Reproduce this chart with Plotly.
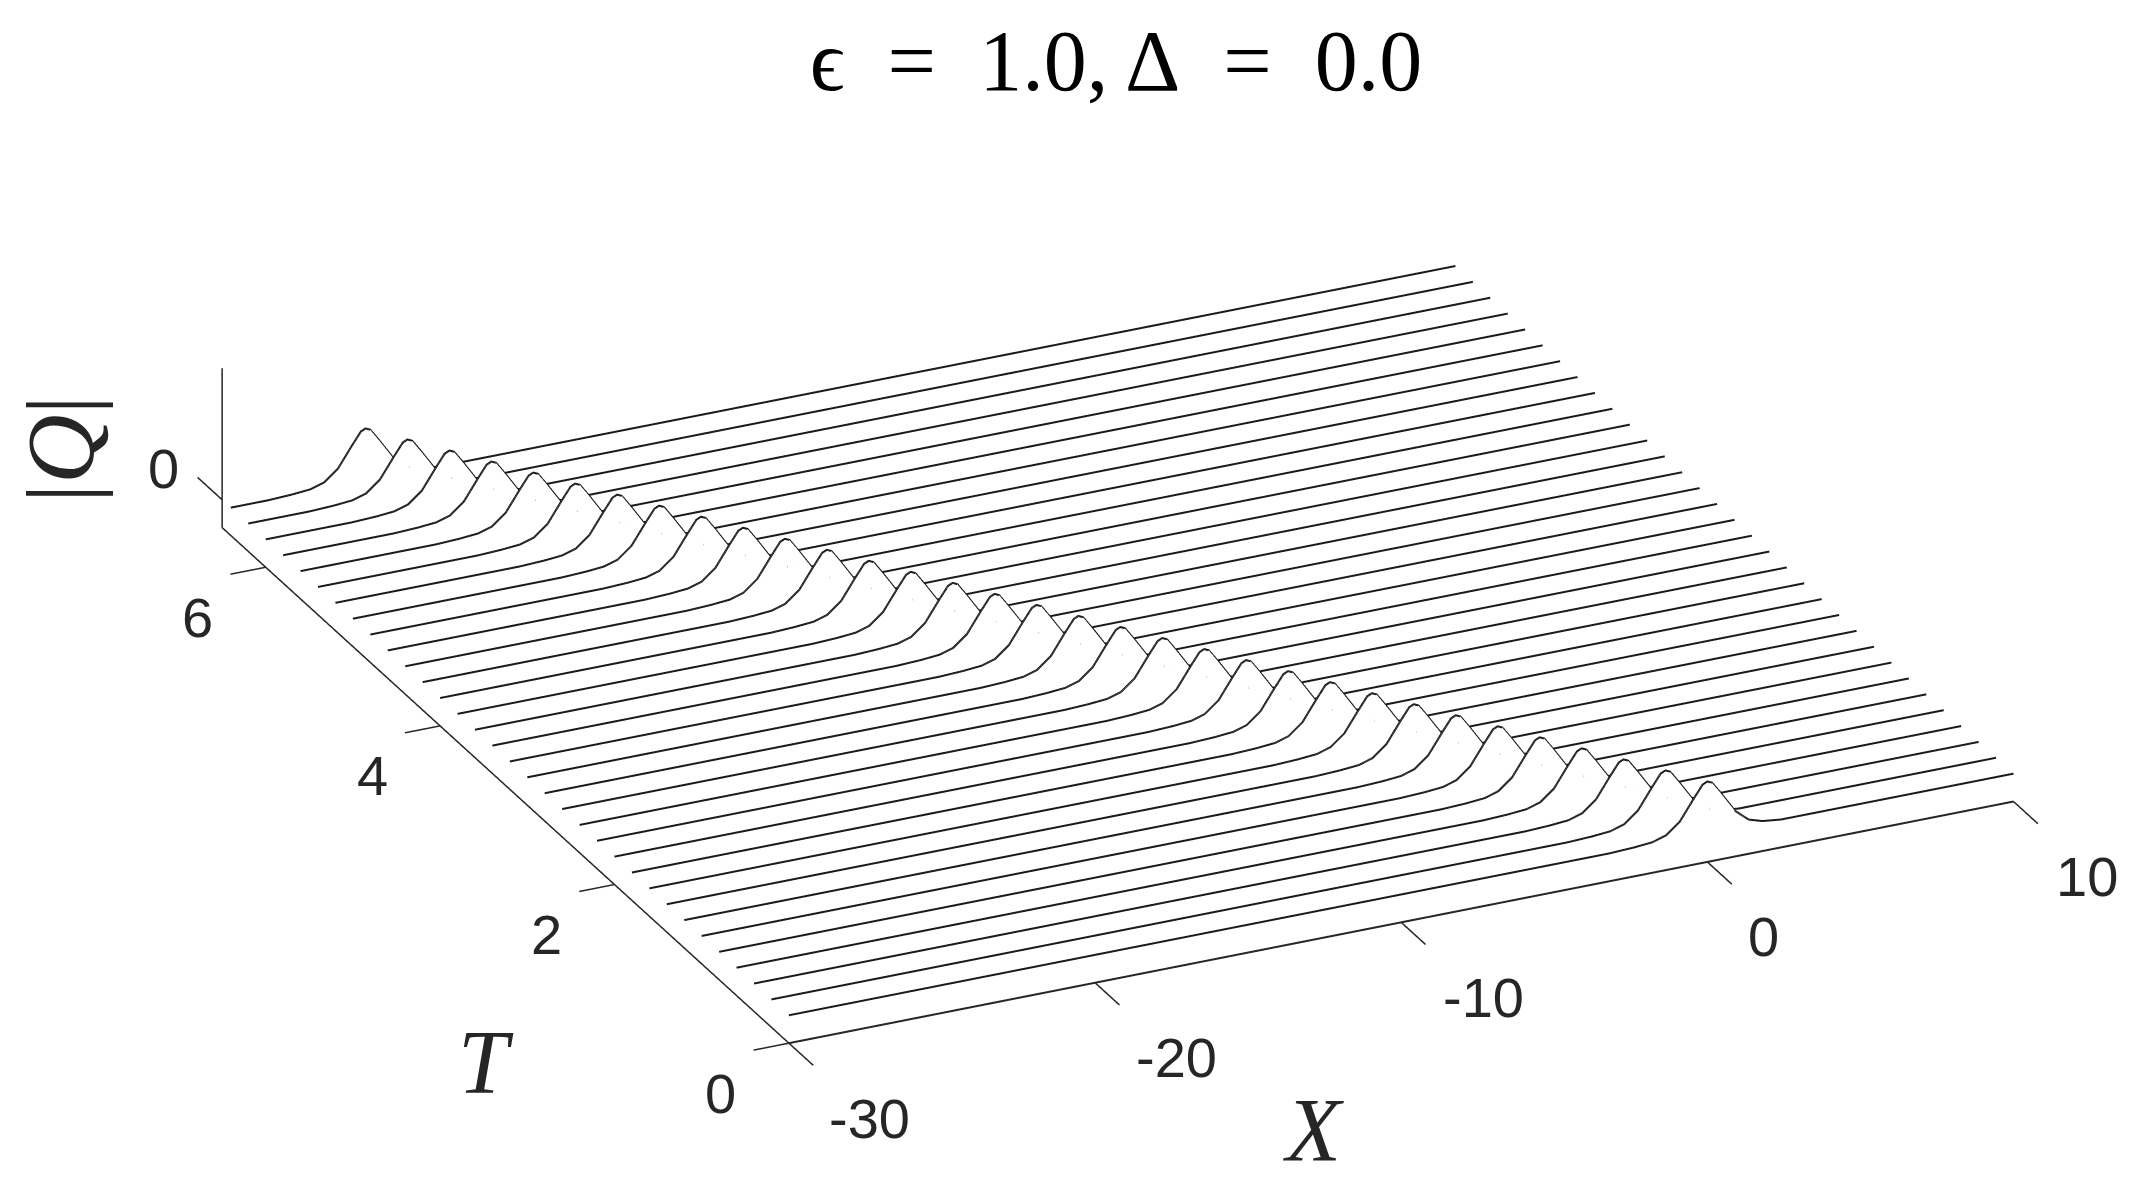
import plotly.graph_objects as go

# readings from the picture
t_values = [0.0, 0.2, 0.4, 0.6, 0.8, 1.0, 1.2, 1.4, 1.6, 1.8, 2.0,
            2.2, 2.4, 2.6, 2.8, 3.0, 3.2, 3.4, 3.6, 3.8, 4.0, 4.2,
            4.4, 4.6, 4.8, 5.0, 5.2, 5.4, 5.6, 5.8, 6.0, 6.2, 6.4]
peak_x = [0.0, -0.8, -1.6, -2.4, -3.2, -4.0, -4.8, -5.6, -6.4, -7.2, -8.0,
          -8.8, -9.6, -10.4, -11.2, -12.0, -12.8, -13.6, -14.4, -15.2, -16.0, -16.8,
          -17.6, -18.4, -19.2, -20.0, -20.8, -21.6, -22.4, -23.2, -24.0, -24.8, -25.6]
pulse_dx = [-3.2, -2.4, -1.8, -1.35, -0.9, -0.45, -0.15, 0.0, 0.15, 0.45, 0.9, 1.35, 1.8, 2.4]
pulse_q = [0.0, 0.02, 0.05, 0.13, 0.34, 0.72, 0.96, 1.0, 0.96, 0.72, 0.34, 0.12, 0.04, 0.0]

x_ticks = [-30, -20, -10, 0, 10]
x_labels = ["-30", "-20", "-10", "0", "10"]
x_label_shift = [81, 81, 82, 56, 74]
t_ticks = [0, 2, 4, 6]
q_ticks = [0]

x_start, x_end = -30, 10
t_end = 6.5
q_floor, q_top = -0.53, 2.5
x_tick_len = 0.28
t_tick_len = 1.15

INK = "#262626"
TICK_FONT = dict(family="Liberation Sans", size=56, color=INK)
MATH_FONT = dict(family="Liberation Serif", size=90, color=INK)
EYE_SCALE = 5
ZOOM = 2.367

fig = go.Figure()


def axis_line(xs, ys, zs, width=3):
    fig.add_trace(go.Scatter3d(x=xs, y=ys, z=zs, mode="lines", hoverinfo="skip",
                               line=dict(color=INK, width=width), showlegend=False))


# one white ribbon under each curve so the nearer peaks hide the lines behind
for t, peak in zip(t_values, peak_x):
    xs = [x_start] + [peak + d for d in pulse_dx] + [x_end]
    zs = [0] + pulse_q + [0]
    n = len(xs)
    fig.add_trace(go.Mesh3d(
        x=xs + xs, y=[t] * (2 * n), z=zs + [0] * n,
        i=[k for k in range(n - 1)] + [k for k in range(n - 1)],
        j=[k + 1 for k in range(n - 1)] + [k + 1 for k in range(n - 1)],
        k=[k + n for k in range(n - 1)] + [k + n + 1 for k in range(n - 1)],
        color="white", opacity=1, hoverinfo="skip", flatshading=True,
        lighting=dict(ambient=1, diffuse=0, specular=0, roughness=1, fresnel=0),
    ))
    fig.add_trace(go.Scatter3d(x=xs, y=[t] * n, z=zs, mode="lines", hoverinfo="skip",
                               line=dict(color="#1a1a1a", width=4), showlegend=False))

# axes and ticks
axis_line([x_start, x_end], [0, 0], [q_floor, q_floor], width=4)
axis_line([x_start, x_start], [0, t_end], [q_floor, q_floor])
axis_line([x_start, x_start], [t_end, t_end], [q_floor, q_top])
for v in x_ticks:
    axis_line([v, v], [0, -x_tick_len], [q_floor, q_floor])
for v in t_ticks:
    axis_line([x_start, x_start - t_tick_len], [v, v], [q_floor, q_floor])
for v in q_ticks:
    axis_line([x_start, x_start], [t_end, t_end + x_tick_len], [v, v])

tick_notes = []
for v, label, shift in zip(x_ticks, x_labels, x_label_shift):
    tick_notes.append(dict(x=v, y=0, z=q_floor, text=label, showarrow=False, font=TICK_FONT,
                           xshift=shift, yshift=-75))
for v in t_ticks:
    tick_notes.append(dict(x=x_start, y=v, z=q_floor, text=str(v), showarrow=False, font=TICK_FONT,
                           xshift=-68, yshift=-50))
for v in q_ticks:
    tick_notes.append(dict(x=x_start, y=t_end, z=v, text=str(v), showarrow=False, font=TICK_FONT,
                           xshift=-59, yshift=31))

hidden_axis = dict(visible=False, showspikes=False, showgrid=False, zeroline=False)
fig.update_layout(
    width=2134, height=1180, margin=dict(l=0, r=0, t=0, b=0),
    paper_bgcolor="white", showlegend=False,
    title=dict(text="ϵ = 1.0, Δ = 0.0".replace(" = ", "\u2002=\u2002"),
               x=1116 / 2134, xanchor="center", y=1 - 60 / 1180, yanchor="middle",
               font=dict(family="Liberation Serif", size=86, color="black")),
    scene=dict(
        domain=dict(x=[0, 1], y=[0, 1]),
        xaxis=dict(range=[x_start - t_tick_len - 0.1, x_end + 0.1], **hidden_axis),
        yaxis=dict(range=[-x_tick_len - 0.02, t_end + x_tick_len + 0.02], **hidden_axis),
        zaxis=dict(range=[q_floor - 0.07, q_top + 0.05], **hidden_axis),
        aspectmode="manual",
        aspectratio=dict(x=ZOOM, y=1.05 * ZOOM, z=0.131 * ZOOM),
        bgcolor="white",
        camera=dict(projection=dict(type="orthographic"),
                    up=dict(x=0, y=0, z=1),
                    center=dict(x=-0.0513, y=0.0231, z=-0.0018),
                    eye=dict(x=-0.3927 * EYE_SCALE, y=-0.8165 * EYE_SCALE, z=0.4233 * EYE_SCALE)),
        annotations=tick_notes,
    ),
    annotations=[
        dict(x=1313 / 2134, y=1 - 1130 / 1180, xref="paper", yref="paper", text="<i>X</i>",
             xanchor="center", yanchor="middle", showarrow=False, font=MATH_FONT),
        dict(x=486 / 2134, y=1 - 1062 / 1180, xref="paper", yref="paper", text="<i>T</i>",
             xanchor="center", yanchor="middle", showarrow=False, font=MATH_FONT),
        dict(x=60 / 2134, y=1 - 449 / 1180, xref="paper", yref="paper", text="|<i>Q</i>|",
             xanchor="center", yanchor="middle", showarrow=False, textangle=-90,
             font=dict(family="Liberation Serif", size=96, color=INK)),
    ],
)

fig.write_html("out.html", config=dict(displayModeBar=False),
               post_script="document.body.style.margin='0';")
